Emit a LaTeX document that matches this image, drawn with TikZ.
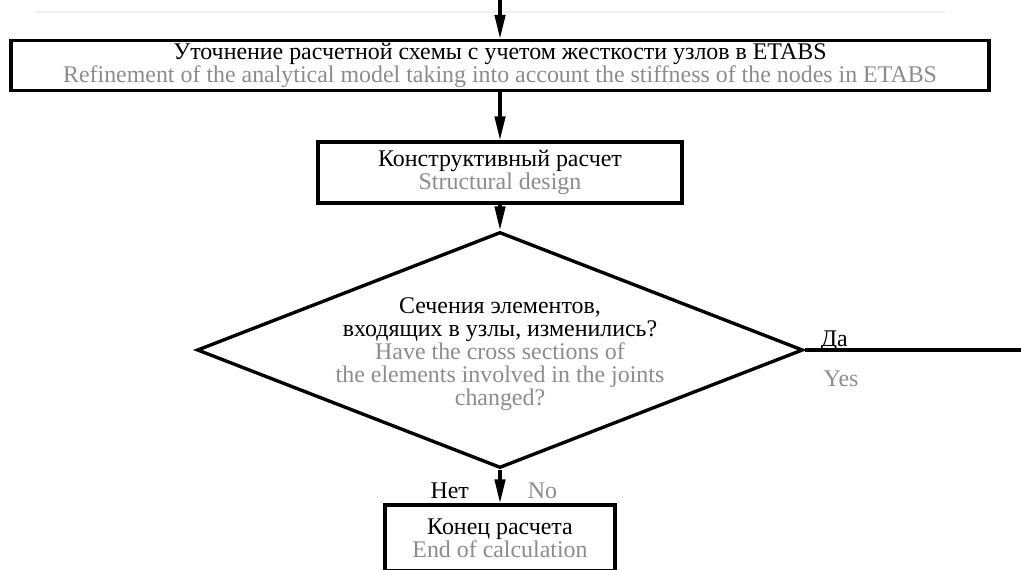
\documentclass[tikz,border=0pt]{standalone}
\usepackage{fontspec}
\setmainfont{Liberation Serif}
\usetikzlibrary{shapes,arrows.meta,positioning}
\definecolor{engray}{HTML}{8C8C8C}

\begin{document}
\begin{tikzpicture}
  \tikzstyle{block}=[rectangle, draw, line width=2.4pt, align=center, inner sep=0pt, font=\fontsize{17}{16.3}\selectfont]
  \tikzstyle{decision}=[diamond, draw, line width=2.4pt, inner sep=0pt, minimum width=15.15cm, minimum height=5.9cm]
  \tikzstyle{flow}=[line width=2.4pt, -{Triangle[width=0.26cm, length=0.6cm]}]
  \tikzstyle{lbl}=[font=\fontsize{17}{16.3}\selectfont, inner sep=1pt]

  \useasboundingbox (0,0) rectangle (25.525,14.225);
  \clip (0,0) rectangle (25.525,14.225);

  % Faint line at the top
  \draw[gray!12, line width=1pt] (0.875,13.925) -- (23.625,13.925);

  % Blocks
  \coordinate (in) at (12.5,14.5);
  \node[block, minimum width=24.45cm, minimum height=1.25cm] (refine) at (12.5,12.5875)
    {Уточнение расчетной схемы с учетом жесткости узлов в ETABS\\
     \textcolor{engray}{Refinement of the analytical model taking into account the stiffness of the nodes in ETABS}};
  \node[block, minimum width=9.1cm, minimum height=1.525cm] (design) at (12.5,9.9125)
    {Конструктивный расчет\\ \textcolor{engray}{Structural design}};

  % Decision
  \node[decision] (check) at (12.5,5.475) {};
  \node[lbl, align=center] (checktext) at ([yshift=-0.11cm]check.center)
    {Сечения элементов,\\ входящих в узлы, изменились?\\
     \textcolor{engray}{Have the cross sections of}\\
     \textcolor{engray}{the elements involved in the joints}\\
     \textcolor{engray}{changed?}};

  % End
  \node[block, minimum width=5.75cm, minimum height=1.65cm] (finish) at (12.5,0.775)
    {Конец расчета\\ \textcolor{engray}{End of calculation}};

  % Connections
  \coordinate (yesend) at (25.8,5.475);
  \draw[flow] (in) -- (refine);
  \draw[flow] (refine) -- (design);
  \draw[flow] (design) -- (check);
  \draw[flow] (check) -- node[lbl, pos=0.62, left=0.7cm] {Нет}
    node[lbl, pos=0.62, right=0.62cm, text=engray] {No} (finish);
  \draw[line width=2.4pt] (check) -- node[lbl, pos=0.13, above=-0.12cm] {Да}
    node[lbl, pos=0.16, below=0.45cm, text=engray] {Yes} (yesend);
\end{tikzpicture}
\end{document}
